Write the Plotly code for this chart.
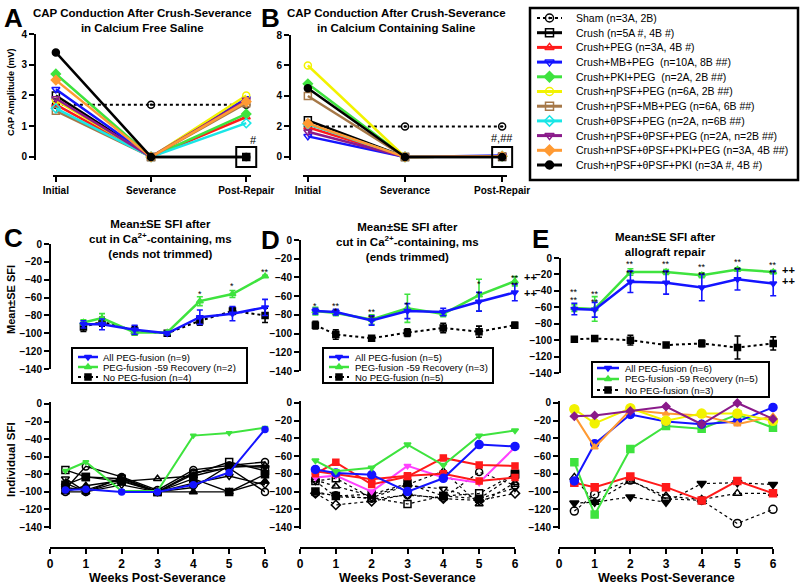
import plotly.graph_objects as go

W, H = 800, 587
FONT = "Liberation Sans, Arial, sans-serif"

# ---------------- DATA ----------------
cap_stages = ["Initial", "Severance", "Post-Repair"]
cap_groups = [
    "Sham (n=3A, 2B)",
    "Crush (n=5A #, 4B #)",
    "Crush+PEG (n=3A, 4B #)",
    "Crush+MB+PEG  (n=10A, 8B ##)",
    "Crush+PKI+PEG  (n=2A, 2B ##)",
    "Crush+ηPSF+PEG (n=6A, 2B ##)",
    "Crush+ηPSF+MB+PEG (n=6A, 6B ##)",
    "Crush+θPSF+PEG (n=2A, n=6B ##)",
    "Crush+ηPSF+θPSF+PEG (n=2A, n=2B ##)",
    "Crush+nPSF+θPSF+PKI+PEG (n=3A, 4B ##)",
    "Crush+ηPSF+θPSF+PKI (n=3A #, 4B #)",
]
# Panel A: CAP amplitude (mV), calcium-free saline
cap_a = [
    [1.7, 1.7, 1.7],
    [2.0, 0.0, 0.0],
    [1.7, 0.0, 1.3],
    [2.2, 0.0, 1.9],
    [2.7, 0.0, 1.4],
    [1.85, 0.0, 2.0],
    [1.5, 0.0, 1.75],
    [1.58, 0.0, 1.1],
    [1.9, 0.0, 1.85],
    [2.5, 0.0, 1.8],
    [3.4, 0.0, 0.0],
]
# Panel B: CAP amplitude (mV), calcium-containing saline
cap_b = [
    [2.0, 2.0, 2.0],
    [2.4, 0.0, 0.0],
    [1.95, 0.0, 0.05],
    [1.35, 0.0, 0.1],
    [4.8, 0.0, 0.05],
    [6.0, 0.0, 0.05],
    [4.0, 0.0, 0.05],
    [2.15, 0.0, 0.05],
    [1.65, 0.0, 0.05],
    [2.2, 0.0, 0.05],
    [4.5, 0.0, 0.0],
]
cap_flag_stage = 2          # stage index where the "#" box is drawn
cap_flag_value = 0.0
cap_flag_text = ["#", "#,##"]

weeks = [0.43, 1, 2, 3, 4, 5, 6]
week_ticks = [0, 1, 2, 3, 4, 5, 6]
sfi_ticks = [0, -20, -40, -60, -80, -100, -120, -140]

# Panel C (mean ± SE)
c_all_mean = [-90, -90, -96, -100, -82, -78, -71]
c_all_se = [4, 6, 5, 2, 8, 8, 9]
c_rec_mean = [-88, -83, -99, -99, -64, -56, -36]
c_rec_se = [3, 5, 3, 1, 5, 4, 1]
c_none_mean = [-93, -87, -97, -100, -86, -75, -80]
c_none_se = [5, 5, 5, 2, 5, 4, 8]
c_sig_weeks = [4, 5, 6]
c_sig_y = [-53, -44, -28]
c_sig_text = ["*", "*", "**"]

# Panel D (mean ± SE)
d_all_mean = [-76, -77, -86, -76, -77, -66, -56]
d_all_se = [3, 3, 5, 8, 4, 10, 9]
d_rec_mean = [-76, -78, -85, -73, -79, -59, -44]
d_rec_se = [4, 3, 5, 15, 3, 17, 5]
d_none_mean = [-91, -101, -105, -99, -94, -98, -91]
d_none_se = [4, 5, 2, 4, 5, 6, 3]
d_sig_weeks = [0.43, 1, 1, 2, 2, 3, 5, 5, 6, 6]
d_sig_y = [-67, -67, -73, -74, -80, -66, -44, -54, -37, -45]
d_sig_text = ["*", "**", "*", "**", "**", "*", "*", "*", "**", "**"]
d_plus_y = [-40, -57]

# Panel E (mean ± SE)
e_all_mean = [-62, -63, -29, -30, -36, -26, -31]
e_all_se = [7, 9, 13, 14, 16, 13, 15]
e_rec_mean = [-61, -62, -17, -17, -21, -14, -17]
e_rec_se = [4, 15, 4, 3, 3, 2, 2]
e_none_mean = [-99, -98, -100, -106, -104, -109, -104]
e_none_se = [3, 1, 6, 1, 4, 14, 8]
e_sig_weeks = [0.43, 0.43, 1, 1, 2, 2, 3, 3, 4, 4, 5, 5, 6, 6]
e_sig_y = [-38, -48, -40, -50, -4, -14, -4, -14, -7, -17, -1, -11, -5, -14]
e_sig_text = ["**"] * 14
e_plus_y = [-14, -28]

legend_c = ["All PEG-fusion (n=9)", "PEG-fusion -59 Recovery (n=2)", "No PEG-fusion (n=4)"]
legend_d = ["All PEG-fusion (n=5)", "PEG-fusion -59 Recovery (n=3)", "No PEG-fusion (n=5)"]
legend_e = ["All PEG-fusion (n=6)", "PEG-fusion -59 Recovery (n=5)", "No PEG-fusion (n=3)"]

# Individual SFI, panel C
c_ind_green = [-76, -66, -99, -99, -36, -33, -27]
c_ind_blue = [-98, -97, -100, -100, -92, -78, -29]
c_ind_black = [
    [-75, -83, -85, -100, -80, -66, -76],
    [-97, -71, -83, -98, -75, -70, -66],
    [-90, -100, -88, -85, -82, -72, -70],
    [-100, -93, -87, -100, -100, -100, -88],
    [-92, -83, -88, -100, -85, -100, -80],
    [-85, -100, -92, -100, -90, -82, -92],
    [-95, -98, -85, -100, -95, -70, -72],
    [-100, -100, -84, -100, -78, -73, -100],
]
# Individual SFI, panel D
d_ind_green = [-65, -77, -73, -47, -70, -37, -31]
d_ind_blue = [-75, -79, -81, -100, -85, -47, -49]
d_ind_red1 = [-80, -67, -92, -83, -62, -70, -71]
d_ind_red2 = [-77, -80, -86, -82, -80, -88, -84]
d_ind_magenta = [-84, -82, -100, -71, -84, -90, -50]
d_ind_black = [
    [-88, -85, -107, -114, -105, -102, -80],
    [-87, -94, -105, -92, -77, -114, -90],
    [-102, -104, -108, -104, -107, -78, -93],
    [-100, -105, -103, -91, -105, -108, -81],
    [-102, -115, -111, -103, -108, -110, -102],
    [-88, -106, -107, -93, -97, -108, -96],
]
# Individual SFI, panel E
e_ind_yellow = [-7, -23, -6, -20, -12, -12, -20]
e_ind_purple = [-15, -14, -9, -4, -24, 0, -18]
e_ind_orange = [-14, -50, -8, -12, -14, -24, -15]
e_ind_blue = [-88, -46, -13, -21, -24, -21, -5]
e_ind_green = [-67, -126, -52, -26, -29, -13, -28]
e_ind_red = [-90, -95, -83, -95, -110, -88, -102]
e_ind_black = [
    [-113, -112, -106, -112, -91, -90, -92],
    [-122, -103, -87, -108, -110, -136, -120],
    [-84, -112, -88, -105, -109, -102, -102],
]

# ---------------- STYLES ----------------
BLUE, GREEN, RED = "#1414ff", "#3ee33e", "#ff1a1a"
YELLOW, BROWN, CYAN = "#f2f200", "#a67848", "#19e6e6"
PURPLE, ORANGE, MAGENTA = "#8a1a8a", "#ff9a33", "#ff40ff"
cap_colors = ["black", "black", RED, BLUE, GREEN, YELLOW, BROWN, CYAN, PURPLE, ORANGE, "black"]
cap_symbols = ["circle-open-dot", "square-open", "triangle-up-open", "triangle-down-open", "diamond",
               "circle-open", "square-open", "diamond-open", "triangle-down-open", "diamond", "circle"]
cap_dash = ["dot"] + ["solid"] * 10
c_black_symbols = ["square-open", "circle-open", "triangle-up-open", "triangle-up", "square",
                   "triangle-down-open", "triangle-down", "circle-open"]
d_black_symbols = ["square-open", "triangle-up-open", "circle-open", "square", "diamond-open", "triangle-down-open"]
e_black_symbols = ["triangle-down", "circle-open", "triangle-up-open"]


def fx(px):
    return px / W


def fy(py):
    return 1 - py / H


def aid(i, letter):
    return letter if i == 1 else f"{letter}{i}"


layout = dict(width=W, height=H, margin=dict(l=0, r=0, t=0, b=0, autoexpand=False), paper_bgcolor="white",
              plot_bgcolor="rgba(0,0,0,0)", showlegend=False, font=dict(family=FONT, color="black"))
shapes, annotations = [], []
fig = go.Figure()


def tickfont(size):
    return dict(family=FONT, size=size, color="black", weight="bold")


def set_x(i, x0, x1, rng, pos=None, tickvals=None, ticktext=None, size=10):
    d = dict(domain=[fx(x0), fx(x1)], range=rng, showgrid=False, zeroline=False, fixedrange=True,
             anchor="free", position=0)
    if pos is None:
        d["visible"] = False
    else:
        d.update(position=fy(pos), showline=True, linecolor="black", linewidth=2, ticks="outside",
                 ticklen=5, tickwidth=2, tickcolor="black", tickvals=tickvals, ticktext=ticktext,
                 tickfont=tickfont(size))
    layout[aid(i, "xaxis")] = d


def set_y(i, top, bot, rng, pos, tickvals, size=10):
    layout[aid(i, "yaxis")] = dict(domain=[fy(bot), fy(top)], range=rng, anchor="free", position=fx(pos),
                                   showgrid=False, zeroline=False, fixedrange=True, showline=True,
                                   linecolor="black", linewidth=2, ticks="outside", ticklen=5, tickwidth=2,
                                   tickcolor="black", tickvals=tickvals, tickfont=tickfont(size))


def line(i, x, y, color, width=2.5, dash="solid", symbol="circle", msize=6, err=None, mline=1.5):
    kw = {}
    if err is not None:
        kw["error_y"] = dict(type="data", array=err, visible=True, color=color, thickness=1.6, width=3)
    fig.add_trace(go.Scatter(x=x, y=y, mode="lines+markers", xaxis=aid(i, "x"), yaxis=aid(i, "y"),
                             line=dict(color=color, width=width, dash=dash), cliponaxis=False,
                             marker=dict(symbol=symbol, size=msize, color=color,
                                         line=dict(color=color, width=mline)), **kw))


def text(x, y, s, size=10, bold=False, xanchor="center", yanchor="middle", angle=0, xref="paper",
         yref="paper", xshift=0, yshift=0):
    annotations.append(dict(x=x, y=y, text=s, showarrow=False, xref=xref, yref=yref, xanchor=xanchor,
                            yanchor=yanchor, textangle=angle, xshift=xshift, yshift=yshift,
                            font=dict(family=FONT, size=size, color="black",
                                      weight="bold" if bold else "normal")))


def frac(v, rng):
    return (v - rng[0]) / (rng[1] - rng[0])


# ---------------- PANEL A / B ----------------
xr_a, yr_a = [-0.03, 2.05], [-0.1, 4.0]
xr_b, yr_b = [-0.05, 2.05], [-0.2, 8.0]
set_x(1, 53, 251, xr_a, pos=176, tickvals=[0, 1, 2], ticktext=cap_stages, size=10)
set_y(1, 34, 160, yr_a, 35, [0, 1, 2, 3, 4])
set_x(2, 303, 507, xr_b, pos=176, tickvals=[0, 1, 2], ticktext=cap_stages, size=10)
set_y(2, 35, 160, yr_b, 290, [0, 2, 4, 6, 8])
for i, data in [(1, cap_a), (2, cap_b)]:
    for k in range(len(cap_groups)):
        line(i, [0, 1, 2], data[k], cap_colors[k], width=2 if k == 0 else 2.5, dash=cap_dash[k],
             symbol=cap_symbols[k], msize=7)
for i, xr, yr, lab, xs, ys in [(1, xr_a, yr_a, cap_flag_text[0], 7, 17), (2, xr_b, yr_b, cap_flag_text[1], 0, 19)]:
    shapes.append(dict(type="rect", xref=aid(i, "x") + " domain", yref=aid(i, "y") + " domain",
                       xsizemode="pixel", ysizemode="pixel",
                       xanchor=frac(cap_flag_stage, xr), yanchor=frac(cap_flag_value, yr),
                       x0=-10, x1=10, y0=-10, y1=10, line=dict(color="black", width=2)))
    text(cap_flag_stage, cap_flag_value, lab, size=11, xref=aid(i, "x"), yref=aid(i, "y"), xshift=xs, yshift=ys)


# ---------------- MEAN PANELS ----------------
def mean_panel(i, allm, alls, recm, recs, nonm, nons):
    line(i, weeks, nonm, "black", width=2, dash="dot", symbol="square", msize=6, err=nons)
    line(i, weeks, recm, GREEN, width=2.5, symbol="triangle-up", msize=6, err=recs)
    line(i, weeks, allm, BLUE, width=2.5, symbol="triangle-down", msize=6, err=alls)


set_x(3, 50, 268, [-0.595, 6.09])
set_y(3, 244, 369, [-140, 0], 50, sfi_ticks)
mean_panel(3, c_all_mean, c_all_se, c_rec_mean, c_rec_se, c_none_mean, c_none_se)
set_x(4, 300, 520, [0, 6.145])
set_y(4, 240, 371, [-140, 0], 300, sfi_ticks)
mean_panel(4, d_all_mean, d_all_se, d_rec_mean, d_rec_se, d_none_mean, d_none_se)
set_x(5, 559, 780, [0, 6.19])
set_y(5, 258, 373, [-140, 0], 560, sfi_ticks)
mean_panel(5, e_all_mean, e_all_se, e_rec_mean, e_rec_se, e_none_mean, e_none_se)

for i, wk, yy, tt in [(3, c_sig_weeks, c_sig_y, c_sig_text), (4, d_sig_weeks, d_sig_y, d_sig_text),
                      (5, e_sig_weeks, e_sig_y, e_sig_text)]:
    for a, b, t in zip(wk, yy, tt):
        text(a, b, t, size=9, xref=aid(i, "x"), yref=aid(i, "y"), yshift=-3)
for i, yy in [(4, d_plus_y), (5, e_plus_y)]:
    for b in yy:
        text(6, b, "++", size=11, bold=True, xref=aid(i, "x"), yref=aid(i, "y"), xanchor="left", xshift=7)

# ---------------- INDIVIDUAL PANELS ----------------
ind_rng = [-142, 2]
set_x(6, 50, 265, [0, 6], pos=548, tickvals=week_ticks, size=12)
set_y(6, 402.2, 528.8, ind_rng, 50, sfi_ticks)
for k, s in enumerate(c_ind_black):
    line(6, weeks, s, "black", width=1.4, symbol=c_black_symbols[k], msize=7)
line(6, weeks, c_ind_green, GREEN, width=2, symbol="triangle-down", msize=5)
line(6, weeks, c_ind_blue, BLUE, width=2, symbol="circle", msize=6)

set_x(7, 300, 515, [0, 6], pos=548, tickvals=week_ticks, size=12)
set_y(7, 401.2, 528.8, ind_rng, 300, sfi_ticks)
for k, s in enumerate(d_ind_black):
    line(7, weeks, s, "black", width=1.2, dash="dot", symbol=d_black_symbols[k], msize=7)
line(7, weeks, d_ind_magenta, MAGENTA, width=2, symbol="triangle-down", msize=6)
line(7, weeks, d_ind_red2, RED, width=2, symbol="square", msize=6)
line(7, weeks, d_ind_red1, RED, width=2, symbol="square", msize=6)
line(7, weeks, d_ind_blue, BLUE, width=2, symbol="circle", msize=8)
line(7, weeks, d_ind_green, GREEN, width=2, symbol="triangle-down", msize=6)

set_x(8, 559, 773, [0, 6], pos=548, tickvals=week_ticks, size=12)
set_y(8, 401.2, 528.8, ind_rng, 559, sfi_ticks)
for k, s in enumerate(e_ind_black):
    line(8, weeks, s, "black", width=1.2, dash="dot", symbol=e_black_symbols[k], msize=8)
line(8, weeks, e_ind_red, RED, width=2, symbol="square", msize=7)
line(8, weeks, e_ind_green, GREEN, width=2, symbol="square", msize=7)
line(8, weeks, e_ind_blue, BLUE, width=2, symbol="circle", msize=8)
line(8, weeks, e_ind_orange, ORANGE, width=2, symbol="triangle-up", msize=6)
line(8, weeks, e_ind_yellow, YELLOW, width=2, symbol="circle", msize=9)
line(8, weeks, e_ind_purple, PURPLE, width=2, symbol="diamond", msize=6)

# ---------------- LEGENDS (pixel overlay axis) ----------------
layout["xaxis9"] = dict(domain=[0, 1], range=[0, W], visible=False, anchor="y9", fixedrange=True)
layout["yaxis9"] = dict(domain=[0, 1], range=[H, 0], visible=False, anchor="x9", fixedrange=True)


def legend(box, lx0, lx1, tx, ys, names, colors, dashes, symbols, fsize, lw=2.5, bw=2.5, msize=7):
    shapes.append(dict(type="rect", xref="paper", yref="paper", x0=fx(box[0]), x1=fx(box[2]),
                       y0=fy(box[3]), y1=fy(box[1]), line=dict(color="black", width=bw)))
    for yy, nm, c, d, s in zip(ys, names, colors, dashes, symbols):
        shapes.append(dict(type="line", xref="paper", yref="paper", x0=fx(lx0), x1=fx(lx1), y0=fy(yy),
                           y1=fy(yy), layer="below", line=dict(color=c, width=lw if d == "solid" else 2,
                                                               dash=d)))
        text(fx(tx), fy(yy), nm, size=fsize, xanchor="left")
        fig.add_trace(go.Scatter(x=[(lx0 + lx1) / 2], y=[yy], mode="markers", xaxis="x9", yaxis="y9",
                                 cliponaxis=False, marker=dict(symbol=s, size=msize, color=c,
                                                               line=dict(color=c, width=1.5))))


legend((530, 8, 798, 180), 537, 562, 574, [18 + 14.7 * k for k in range(11)], cap_groups, cap_colors,
       cap_dash, cap_symbols, 10.5, lw=3, bw=2.5, msize=8)
mean_colors = [BLUE, GREEN, "black"]
mean_dash = ["solid", "solid", "dot"]
mean_syms = ["triangle-down", "triangle-up", "square"]
legend((72, 348, 247, 383), 78, 98, 101, [357, 367, 377], legend_c, mean_colors, mean_dash, mean_syms, 9.5,
       bw=2, msize=6)
legend((323, 348, 493, 383), 329, 349, 353, [357, 367, 377], legend_d, mean_colors, mean_dash, mean_syms, 9.5,
       bw=2, msize=6)
legend((592, 362, 769, 397), 597, 619, 623, [368, 379, 390], legend_e, mean_colors, mean_dash, mean_syms, 9.5,
       bw=2, msize=6)

# ---------------- TITLES & LABELS ----------------
text(fx(2), fy(18), "A", size=26, bold=True, xanchor="left")
text(fx(259), fy(18), "B", size=26, bold=True, xanchor="left")
text(fx(2), fy(238), "C", size=26, bold=True, xanchor="left")
text(fx(259), fy(240), "D", size=26, bold=True, xanchor="left")
text(fx(530), fy(239), "E", size=26, bold=True, xanchor="left")

text(fx(142), fy(5), "CAP Conduction After Crush-Severance<br>in Calcium Free Saline", size=11.5, bold=True,
     yanchor="top")
text(fx(396), fy(5), "CAP Conduction After Crush-Severance<br>in Calcium Containing Saline", size=11.5,
     bold=True, yanchor="top")
text(fx(160), fy(216), "Mean±SE SFI after<br>cut in Ca<sup>2+</sup>-containing, ms<br>(ends not trimmed)",
     size=11.5, bold=True, yanchor="top")
text(fx(407), fy(219), "Mean±SE SFI after<br>cut in Ca<sup>2+</sup>-containing, ms<br>(ends trimmed)",
     size=11.5, bold=True, yanchor="top")
text(fx(665), fy(229), "Mean±SE SFI after<br>allograft repair", size=11.5, bold=True, yanchor="top")

text(fx(11), fy(92), "CAP Amplitude (mV)", size=9, bold=True, angle=-90)
text(fx(11), fy(300), "Mean±SE SFI", size=11, bold=True, angle=-90)
text(fx(11), fy(460), "Individual SFI", size=11.5, bold=True, angle=-90)
for cx in (157, 407, 666):
    text(fx(cx), fy(578), "Weeks Post-Severance", size=12.5, bold=True)

layout["shapes"] = shapes
layout["annotations"] = annotations
fig.update_layout(**layout)
fig.write_html("out.html", config={"displayModeBar": False},
               post_script="document.body.style.margin='0';document.body.style.overflow='hidden';")
